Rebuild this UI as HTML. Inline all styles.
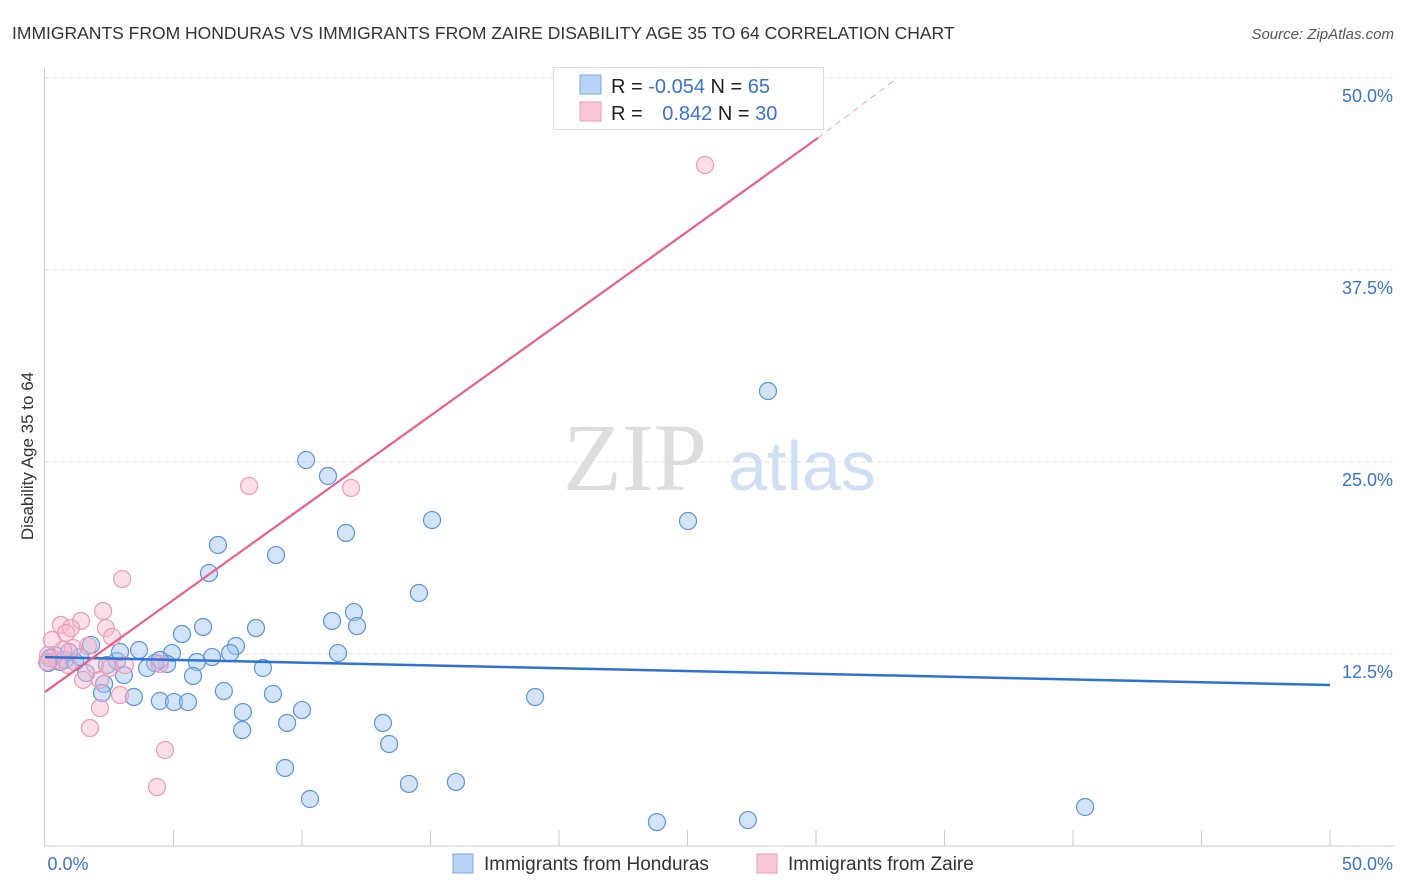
<!DOCTYPE html>
<html><head><meta charset="utf-8"><style>
body{margin:0;background:#fff;font-family:"Liberation Sans",sans-serif}
svg{display:block}
</style></head><body>
<svg id="chart" width="1406" height="892" viewBox="0 0 1406 892" xmlns="http://www.w3.org/2000/svg">
<text x="12" y="39" font-size="17.5" fill="#333">IMMIGRANTS FROM HONDURAS VS IMMIGRANTS FROM ZAIRE DISABILITY AGE 35 TO 64 CORRELATION CHART</text>
<text x="1394" y="39" font-size="15" fill="#555" font-style="italic" text-anchor="end">Source: ZipAtlas.com</text>
<g>
<text x="635" y="490" font-family="Liberation Serif,serif" font-size="96" fill="#ddd" text-anchor="middle">ZIP</text>
<text x="802" y="490" font-size="70" fill="#cfe0f5" text-anchor="middle">atlas</text>
</g>
<g id="grid"></g>
<g id="axes"></g>
<g id="marks"></g>
<g>
<rect x="553.5" y="67.5" width="270" height="62" fill="#fff" stroke="#ddd"/>
<rect x="580" y="75" width="21" height="19" fill="#b8d3f5" stroke="#7aa7e6"/>
<rect x="580" y="102" width="21" height="19" fill="#f9c6d5" stroke="#ef9ab3"/>
<text x="611" y="93" font-size="20" fill="#222">R = <tspan fill="#3a73cf">-0.054</tspan>   N = <tspan fill="#3a73cf">65</tspan></text>
<text x="611" y="120" font-size="20" fill="#222">R = <tspan fill="#3a73cf" dx="14">0.842</tspan>   N = <tspan fill="#3a73cf">30</tspan></text>
</g>
<text transform="translate(33,456) rotate(-90)" font-size="17" fill="#333" text-anchor="middle">Disability Age 35 to 64</text>
<g>
<rect x="453" y="854" width="20" height="19" fill="#b8d3f5" stroke="#7aa7e6"/>
<text x="484" y="870" font-size="19" fill="#333">Immigrants from Honduras</text>
<rect x="757" y="854" width="20" height="19" fill="#f9c6d5" stroke="#ef9ab3"/>
<text x="788" y="870" font-size="19" fill="#333">Immigrants from Zaire</text>
</g>
</svg>
<script>
const xTicks=[0,50];
const yTicks=[12.5,25,37.5,50];
const xTickLabels=["0.0%","50.0%"];
const yTickLabels=["12.5%","25.0%","37.5%","50.0%"];
const hondurasX=[10.16,11.01,6.73,8.99,11.71,15.06,25.02,28.13,6.38,14.55,12.02,11.17,12.14,6.15,8.21,5.33,7.43,3.66,1.79,7.2,11.4,4.94,6.5,2.8,0.78,0.39,0.19,0.58,1.17,2.41,1.36,4.75,5.91,4.28,3.97,8.48,1.6,3.07,5.76,2.3,6.96,2.22,8.87,3.46,4.47,5.02,5.56,19.07,7.7,10.0,9.42,13.15,7.67,13.39,9.34,10.31,14.16,15.99,23.81,27.35,40.47,0.93,4.47,2.92,0.12];
const hondurasY=[25.13,24.09,19.6,18.94,20.38,21.22,21.16,29.62,17.77,16.47,15.23,14.65,14.32,14.26,14.19,13.8,13.02,12.76,13.09,12.56,12.56,12.56,12.3,12.04,12.11,12.43,12.24,11.98,11.98,11.78,12.3,11.85,11.98,11.91,11.59,11.59,11.26,11.13,11.07,10.55,10.09,9.96,9.9,9.7,9.44,9.37,9.37,9.7,8.72,8.85,8.01,8.01,7.55,6.64,5.08,3.06,4.04,4.17,1.56,1.69,2.54,12.63,12.11,12.63,11.91];
const zaireX=[25.68,7.94,11.91,3.0,2.26,1.4,0.62,1.01,0.82,2.37,2.61,0.27,1.67,0.12,0.47,0.89,1.95,3.11,4.47,1.48,2.14,2.92,2.14,1.75,4.67,4.36,0.08,1.09,0.7,2.53];
const zaireY=[44.33,23.44,23.31,17.38,15.3,14.65,14.39,14.19,13.87,14.19,13.61,13.41,13.02,12.43,12.11,11.78,11.78,11.78,11.85,10.81,10.81,9.83,8.98,7.68,6.25,3.84,11.98,12.89,12.76,11.59];
const hondurasTrend=[[0,12.3],[50,10.48]];
const zaireTrend=[[0,10.03],[30.08,46.1]];
const zaireTrendExt=[[30.08,46.1],[33.07,49.88]];
const X=v=>45+v/50*1285, Y=v=>846-v/50*768;
const NS="http://www.w3.org/2000/svg";
function mk(p,t,a){const e=document.createElementNS(NS,t);for(const k in a)e.setAttribute(k,a[k]);p.appendChild(e);return e;}
const grid=document.getElementById('grid'),axes=document.getElementById('axes'),marks=document.getElementById('marks');
yTicks.forEach((v,i)=>{
 const l=mk(grid,'line',{x1:45,x2:1394,y1:Y(v),y2:Y(v),stroke:'#ddd','stroke-dasharray':'4,4'});
 
 
 const t=mk(axes,'text',{x:1393,y:Y(v)+24,'font-size':18,fill:'#3a73cf','text-anchor':'end'});
 t.textContent=yTickLabels[i];
 
 
});
const ax=mk(axes,'line',{x1:45,x2:1394,y1:846,y2:846,stroke:'#ccc'});


const ay=mk(axes,'line',{x1:44.5,x2:44.5,y1:68,y2:846,stroke:'#ccc'});


for(let i=1;i<=10;i++){
 const m=mk(axes,'line',{x1:X(i*5),x2:X(i*5),y1:830,y2:846,stroke:'#ccc'});
 
 
}
xTicks.forEach((v,i)=>{
 const t=mk(axes,'text',{x:i==0?X(v)+23:X(v)+63,y:870,'font-size':18,fill:'#3a73cf','text-anchor':i==0?'middle':'end'});
 t.textContent=xTickLabels[i];
 
 
});
hondurasX.forEach((x,i)=>{
 const c=mk(marks,'circle',{cx:X(x),cy:Y(hondurasY[i]),r:8.5,fill:'rgba(160,195,240,0.45)',stroke:'#5b93dd','stroke-width':1.2});
 
 
});
zaireX.forEach((x,i)=>{
 const c=mk(marks,'circle',{cx:X(x),cy:Y(zaireY[i]),r:8.5,fill:'rgba(248,185,205,0.45)',stroke:'#ee9ab4','stroke-width':1.2});
 
 
});
const bl=mk(marks,'line',{x1:X(hondurasTrend[0][0]),y1:Y(hondurasTrend[0][1]),x2:X(hondurasTrend[1][0]),y2:Y(hondurasTrend[1][1]),stroke:'#2f72d6','stroke-width':2.5});


const pl=mk(marks,'line',{x1:X(zaireTrend[0][0]),y1:Y(zaireTrend[0][1]),x2:X(zaireTrend[1][0]),y2:Y(zaireTrend[1][1]),stroke:'#e8608a','stroke-width':2.2});


const pd=mk(marks,'line',{x1:X(zaireTrendExt[0][0]),y1:Y(zaireTrendExt[0][1]),x2:X(zaireTrendExt[1][0]),y2:Y(zaireTrendExt[1][1]),stroke:'#eea0b8','stroke-width':1,'stroke-dasharray':'6,5'});


</script>
</body></html>
